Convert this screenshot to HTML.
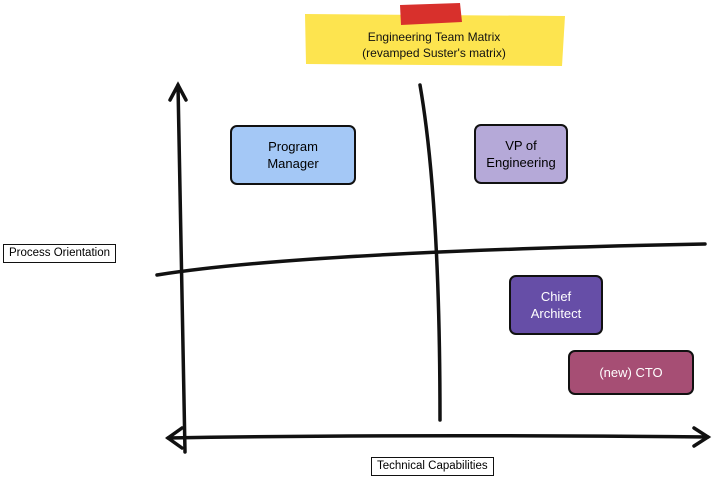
<!DOCTYPE html>
<html><head><style>
body{margin:0;width:712px;height:482px;background:#fff;position:relative;overflow:hidden;font-family:"Liberation Sans",sans-serif}
.b{position:absolute;border:2px solid #111;border-radius:7px;box-sizing:border-box;display:flex;align-items:center;justify-content:center;text-align:center;font-size:13px;line-height:17px}
.l{position:absolute;border:1.5px solid #111;background:#fff;font-size:11.5px;padding:0 5px;box-sizing:border-box;line-height:17px}
</style></head><body>
<svg width="712" height="482" style="position:absolute;left:0;top:0">
<polygon points="305,14 565,16 562,66 306,64" fill="#fde44f"/>
<polygon points="400,5 460,3 462,22 401,25" fill="#d8302c"/>
<g stroke="#111" stroke-width="3.5" fill="none" stroke-linecap="round">
<path d="M178,85 Q182,270 185,452"/>
<path d="M170,100 L178,85 L186,100"/>
<path d="M168,438 Q400,434 708,437"/>
<path d="M182,428 L168,438 L182,448"/>
<path d="M694,428 L708,437 L694,446"/>
<path d="M157,275 Q300,252 705,244"/>
<path d="M420,85 Q440,200 440,420"/>
</g>
</svg>
<div style="position:absolute;left:305px;top:29px;width:258px;text-align:center;font-size:12px;line-height:16px;color:#111">Engineering Team Matrix<br>(revamped Suster's matrix)</div>
<div class="b" style="left:230px;top:125px;width:126px;height:60px;background:#a4c8f6">Program<br>Manager</div>
<div class="b" style="left:474px;top:124px;width:94px;height:60px;background:#b5a9d8">VP of<br>Engineering</div>
<div class="b" style="left:509px;top:275px;width:94px;height:60px;background:#664ea7;color:#fff">Chief<br>Architect</div>
<div class="b" style="left:568px;top:350px;width:126px;height:45px;background:#a64e74;color:#fff">(new) CTO</div>
<div class="l" style="left:3px;top:244px">Process Orientation</div>
<div class="l" style="left:371px;top:457px">Technical Capabilities</div>
</body></html>
